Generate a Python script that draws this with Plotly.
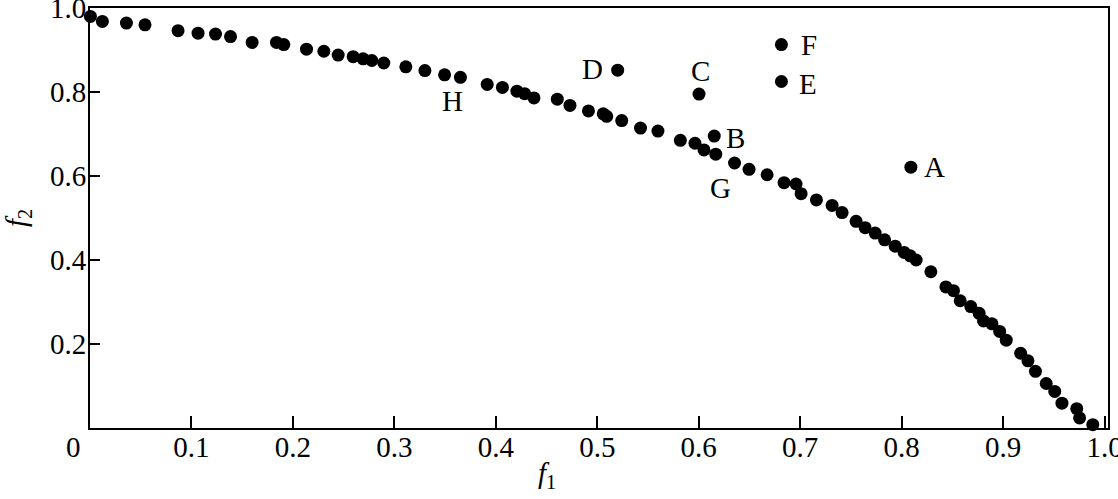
import plotly.graph_objects as go

# Pareto front points (f1, f2)
f1 = [0.0004, 0.0122, 0.0359, 0.0542, 0.0868, 0.1065, 0.1237, 0.1385, 0.1598, 0.1838,
      0.1910, 0.2134, 0.2305, 0.2446, 0.2594, 0.2692, 0.2778, 0.2896, 0.3113, 0.3301,
      0.3495, 0.3651, 0.3915, 0.4065, 0.4208, 0.4284, 0.4376, 0.4606, 0.4731, 0.4913,
      0.5059, 0.5093, 0.5241, 0.5426, 0.5598, 0.5819, 0.5963, 0.6052, 0.6168, 0.6353,
      0.6496, 0.6674, 0.6841, 0.6959, 0.7009, 0.7160, 0.7315, 0.7413, 0.7551, 0.7640,
      0.7739, 0.7832, 0.7936, 0.8025, 0.8084, 0.8143, 0.8288, 0.8436, 0.8511, 0.8577,
      0.8682, 0.8764, 0.8807, 0.8890, 0.8966, 0.9031, 0.9173, 0.9245, 0.9319, 0.9425,
      0.9509, 0.9580, 0.9726, 0.9754, 0.9884]
f2 = [0.980, 0.968, 0.964, 0.960, 0.946, 0.940, 0.938, 0.932, 0.918, 0.918,
      0.913, 0.902, 0.897, 0.888, 0.884, 0.879, 0.875, 0.869, 0.860, 0.851,
      0.841, 0.835, 0.818, 0.811, 0.802, 0.796, 0.786, 0.783, 0.768, 0.755,
      0.748, 0.742, 0.732, 0.714, 0.707, 0.685, 0.678, 0.662, 0.652, 0.631,
      0.616, 0.603, 0.584, 0.581, 0.558, 0.543, 0.530, 0.513, 0.492, 0.477,
      0.464, 0.448, 0.433, 0.418, 0.410, 0.400, 0.372, 0.336, 0.327, 0.303,
      0.289, 0.273, 0.255, 0.248, 0.230, 0.209, 0.178, 0.160, 0.135, 0.106,
      0.087, 0.059, 0.046, 0.024, 0.008]

# Off-front solutions
special_labels = ["A", "B", "C", "D", "E", "F"]
special_f1 = [0.8091, 0.6153, 0.6003, 0.5201, 0.6815, 0.6815]
special_f2 = [0.621, 0.695, 0.795, 0.852, 0.825, 0.913]

# Labelled front points (label -> index into f1/f2)
front_labels = ["G", "H"]
front_label_idx = [38, 21]

x_tickvals = [0.1, 0.2, 0.3, 0.4, 0.5, 0.6, 0.7, 0.8, 0.9, 1.0]
x_ticktext = ["0.1", "0.2", "0.3", "0.4", "0.5", "0.6", "0.7", "0.8", "0.9", "1.0"]
y_tickvals = [0.2, 0.4, 0.6, 0.8, 1.0]
y_ticktext = ["0.2", "0.4", "0.6", "0.8", "1.0"]
origin_label = "0"

FONT = "Liberation Serif"
FS = 29

fig = go.Figure()
fig.add_trace(go.Scatter(x=f1, y=f2, mode="markers",
                         marker=dict(color="black", size=13),
                         cliponaxis=False, showlegend=False))
fig.add_trace(go.Scatter(x=special_f1, y=special_f2, mode="markers",
                         marker=dict(color="black", size=13),
                         cliponaxis=False, showlegend=False))

label_shift = {"A": (24, 0), "B": (21, -2), "C": (1, 23), "D": (-25, 1),
               "E": (27, -2), "F": (28, 0), "G": (5, -34), "H": (-8, -24)}

annotations = []
for lab, x, y in zip(special_labels, special_f1, special_f2):
    dx, dy = label_shift[lab]
    annotations.append(dict(x=x, y=y, xref="x", yref="y", text=lab, showarrow=False,
                            xshift=dx, yshift=dy, font=dict(family=FONT, size=FS, color="black")))
for lab, i in zip(front_labels, front_label_idx):
    dx, dy = label_shift[lab]
    annotations.append(dict(x=f1[i], y=f2[i], xref="x", yref="y", text=lab, showarrow=False,
                            xshift=dx, yshift=dy, font=dict(family=FONT, size=FS, color="black")))
# origin label
annotations.append(dict(x=0, y=0, xref="x", yref="y", text=origin_label, showarrow=False,
                        xshift=-17, yshift=-19, font=dict(family=FONT, size=FS, color="black")))
# x-axis title
annotations.append(dict(x=0.45, y=0, xref="x", yref="paper", text="<i>f</i><sub>1</sub>",
                        showarrow=False, yshift=-67, font=dict(family=FONT, size=FS, color="black")))

fig.update_layout(
    width=1118, height=499,
    margin=dict(l=90, r=10, t=8, b=71, autoexpand=False),
    paper_bgcolor="white", plot_bgcolor="white",
    font=dict(family=FONT, size=FS, color="black"),
    annotations=annotations,
    xaxis=dict(range=[0, 1.0034], tickvals=x_tickvals, ticktext=x_ticktext,
               ticks="inside", ticklen=12, tickwidth=2, tickcolor="black",
               showline=True, linewidth=2, linecolor="black", mirror=True,
               showgrid=False, zeroline=False, automargin=False,
               ticklabeloverflow="allow", ticklabelstandoff=-8,
               tickfont=dict(family=FONT, size=FS, color="black")),
    yaxis=dict(range=[0, 1.0], tickvals=y_tickvals, ticktext=y_ticktext,
               ticks="inside", ticklen=10, tickwidth=1.5, tickcolor="black",
               showline=True, linewidth=2, linecolor="black", mirror=True,
               showgrid=False, zeroline=False, automargin=False,
               ticklabeloverflow="allow", ticklabelstandoff=-4,
               tickfont=dict(family=FONT, size=FS, color="black"),
               title=dict(text="<i>f</i><sub>2</sub>", standoff=18,
                          font=dict(family=FONT, size=FS, color="black"))),
)

fig.write_html("out.html", config={"displayModeBar": False},
               post_script="document.body.style.margin='0';document.body.style.overflow='hidden';")
